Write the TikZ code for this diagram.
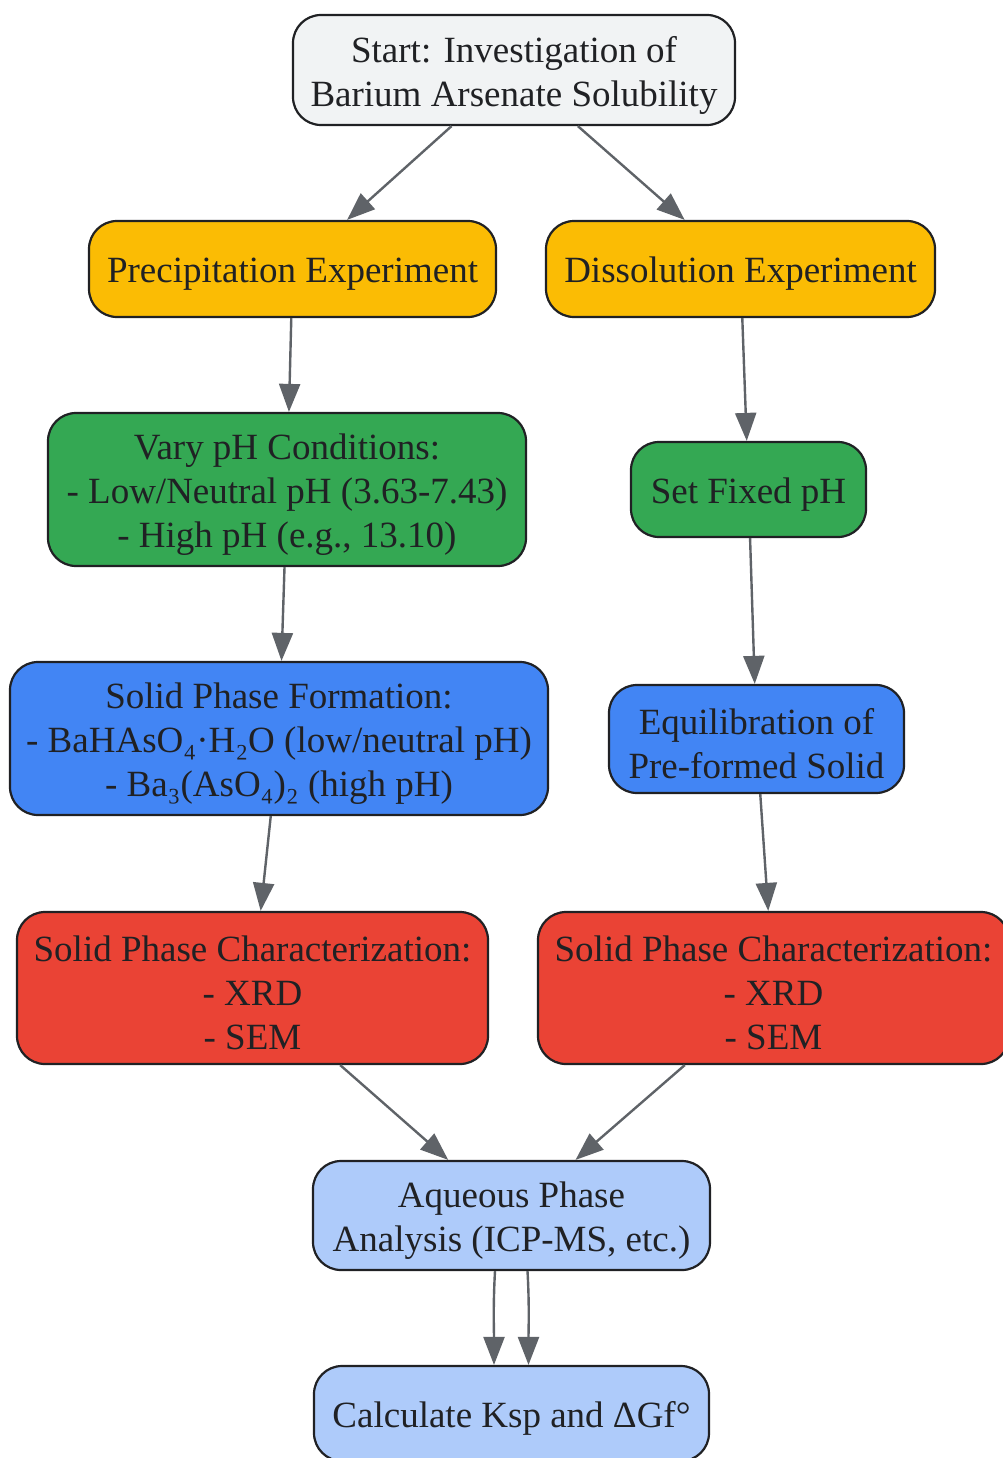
\documentclass[tikz,border=0pt]{standalone}
\usepackage{fontspec}
\setmainfont{Liberation Serif}
\usetikzlibrary{arrows.meta}
\definecolor{edgec}{RGB}{32,33,36}
\definecolor{arrc}{RGB}{95,99,104}
\definecolor{txt}{RGB}{32,33,36}
\definecolor{startc}{RGB}{241,243,244}
\definecolor{yellowc}{RGB}{251,188,4}
\definecolor{greenc}{RGB}{52,168,83}
\definecolor{bluec}{RGB}{66,133,244}
\definecolor{redc}{RGB}{234,67,53}
\definecolor{lightc}{RGB}{174,203,250}
\begin{document}
\begin{tikzpicture}[x=1pt,y=-1pt,
  box/.style={draw=edgec, line width=2.2pt, rounded corners=28pt, inner sep=0pt},
  lbl/.style={align=center, text=txt, font=\fontsize{37}{44}\selectfont, inner sep=0pt, yshift=-5pt},
  conn/.style={draw=arrc, line width=2.4pt, -{Triangle[length=28pt,width=21pt]}}
]
\useasboundingbox (0,0) rectangle (1002,1458);
\node[box, fill=startc, minimum width=442pt, minimum height=110pt] (start) at (514,70) {};
\node[lbl] (start-t) at (start.center) {Start: Investigation of\\Barium Arsenate Solubility};
\node[box, fill=yellowc, minimum width=407pt, minimum height=96pt] (prec) at (292.5,269) {};
\node[lbl] (prec-t) at (prec.center) {Precipitation Experiment};
\node[box, fill=yellowc, minimum width=389pt, minimum height=96pt] (diss) at (740.5,269) {};
\node[lbl] (diss-t) at (diss.center) {Dissolution Experiment};
\node[box, fill=greenc, minimum width=478pt, minimum height=153pt] (vary) at (287,489.5) {};
\node[lbl] (vary-t) at (vary.center) {Vary pH Conditions:\\- Low/Neutral pH (3.63-7.43)\\- High pH (e.g., 13.10)};
\node[box, fill=greenc, minimum width=235pt, minimum height=95pt] (fixed) at (748.5,489.5) {};
\node[lbl] (fixed-t) at (fixed.center) {Set Fixed pH};
\node[box, fill=bluec, minimum width=538pt, minimum height=153pt] (spf) at (279,738.5) {};
\node[lbl] (spf-t) at (spf.center) {Solid Phase Formation:\\- BaHAsO₄·H₂O (low/neutral pH)\\- Ba₃(AsO₄)₂ (high pH)};
\node[box, fill=bluec, minimum width=295pt, minimum height=108pt] (equil) at (756.5,739) {};
\node[lbl] (equil-t) at (equil.center) {Equilibration of\\Pre-formed Solid};
\node[box, fill=redc, minimum width=471pt, minimum height=152pt] (charl) at (252.5,988) {};
\node[lbl] (charl-t) at (charl.center) {Solid Phase Characterization:\\- XRD\\- SEM};
\node[box, fill=redc, minimum width=471pt, minimum height=152pt] (charr) at (773.5,988) {};
\node[lbl] (charr-t) at (charr.center) {Solid Phase Characterization:\\- XRD\\- SEM};
\node[box, fill=lightc, minimum width=397pt, minimum height=109pt] (aq) at (511.5,1215.5) {};
\node[lbl] (aq-t) at (aq.center) {Aqueous Phase\\Analysis (ICP-MS, etc.)};
\node[box, fill=lightc, minimum width=395pt, minimum height=95pt] (calc) at (511.5,1413.5) {};
\node[lbl] (calc-t) at (calc.center) {Calculate Ksp and ΔGf°};

\draw[conn] (start) -- (prec);
\draw[conn] (start) -- (diss);
\draw[conn] (prec) -- (vary);
\draw[conn] (diss) -- (fixed);
\draw[conn] (vary) -- (spf);
\draw[conn] (fixed) -- (equil);
\draw[conn] (spf) -- (charl);
\draw[conn] (equil) -- (charr);
\draw[conn] (charl) -- (aq);
\draw[conn] (charr) -- (aq);
\draw[conn] ([xshift=-16.5pt]aq.south) .. controls +(-2,35) and +(0,-35) .. ([xshift=-17.5pt]calc.north);
\draw[conn] ([xshift=16pt]aq.south) .. controls +(2,35) and +(0,-35) .. ([xshift=17pt]calc.north);
\end{tikzpicture}
\end{document}
